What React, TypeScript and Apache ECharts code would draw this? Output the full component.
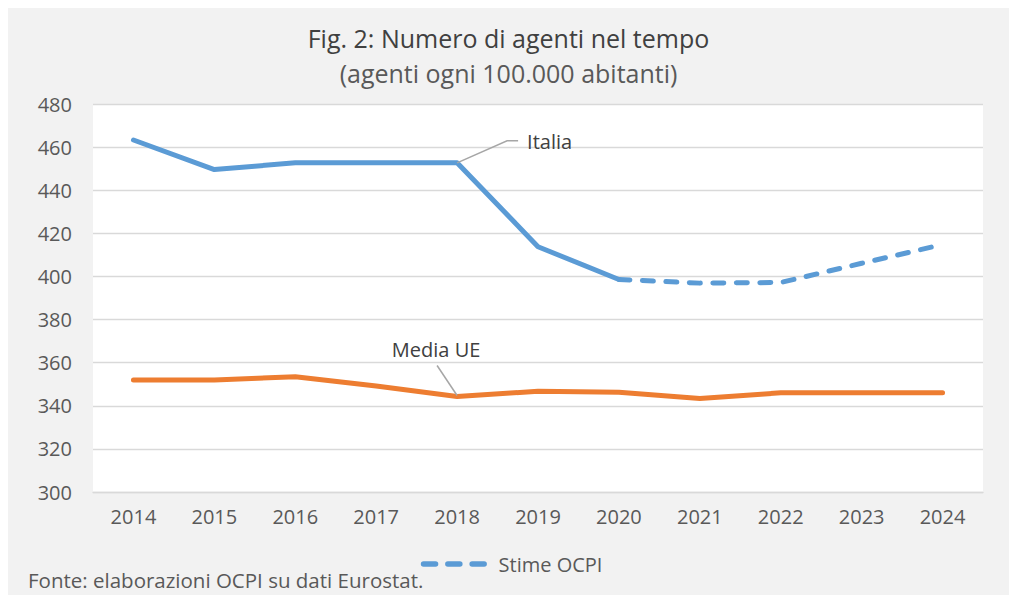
import React, { useEffect, useRef } from "react";
import * as echarts from "echarts";

const years = ["2014", "2015", "2016", "2017", "2018", "2019", "2020", "2021", "2022", "2023", "2024"];
const italia = [463.3, 449.6, 452.7, 452.7, 452.7, 413.8, 398.6, null, null, null, null];
const stimeOCPI = [null, null, null, null, null, null, 398.6, 396.9, 397.2, 406.1, 414.8];
const mediaUE = [352, 352, 353.5, 349.2, 344.3, 346.7, 346.3, 343.4, 346, 346, 346];

const FONT = "'Open Sans', sans-serif";
const BLUE = "#5b9bd5";
const ORANGE = "#ed7d31";

export default function App() {
  const ref = useRef<HTMLDivElement>(null);
  useEffect(() => {
    document.body.style.overflow = "hidden";
    const chart = echarts.init(ref.current!, null, { renderer: "svg" });
    chart.setOption({
      animation: false,
      backgroundColor: "#f2f2f2",
      textStyle: { fontFamily: FONT },
      title: [
        {
          text: "Fig. 2: Numero di agenti nel tempo",
          left: "center",
          top: 12,
          textStyle: { fontFamily: FONT, fontSize: 25, fontWeight: "normal", color: "#404040" },
        },
        {
          text: "(agenti ogni 100.000 abitanti)",
          left: "center",
          top: 47,
          textStyle: { fontFamily: FONT, fontSize: 25, fontWeight: "normal", color: "#595959" },
        },
      ],
      grid: {
        left: 85,
        top: 96,
        right: 26,
        bottom: 103,
        show: true,
        backgroundColor: "#ffffff",
        borderWidth: 0,
      },
      legend: {
        data: ["Stime OCPI"],
        left: 407.8,
        top: 541,
        itemWidth: 70,
        itemHeight: 20,
        itemStyle: { opacity: 0 },
        lineStyle: { type: [12, 12.3], cap: "round", width: 5.5, color: BLUE },
        textStyle: { fontFamily: FONT, fontSize: 20, color: "#595959" },
      },
      xAxis: {
        type: "category",
        data: years,
        boundaryGap: true,
        axisLine: { lineStyle: { color: "#d9d9d9", width: 1.3 } },
        axisTick: { inside: true, length: 6, lineStyle: { color: "#d9d9d9", width: 1.3 } },
        axisLabel: { fontFamily: FONT, fontSize: 20, color: "#595959", margin: 14 },
      },
      yAxis: {
        type: "value",
        min: 300,
        max: 480,
        interval: 20,
        axisLine: { show: false },
        axisTick: { show: false },
        splitLine: { lineStyle: { color: "#d9d9d9", width: 1.3 } },
        axisLabel: { fontFamily: FONT, fontSize: 20, color: "#595959", margin: 21 },
      },
      series: [
        {
          name: "Italia",
          type: "line",
          data: italia,
          symbol: "none",
          lineStyle: { color: BLUE, width: 5, join: "round", cap: "round" },
          itemStyle: { color: BLUE },
        },
        {
          name: "Stime OCPI",
          type: "line",
          data: stimeOCPI,
          symbol: "none",
          lineStyle: { color: BLUE, width: 5, type: [11, 12.5], cap: "round", join: "round" },
          itemStyle: { color: BLUE },
        },
        {
          name: "Media UE",
          type: "line",
          data: mediaUE,
          symbol: "none",
          lineStyle: { color: ORANGE, width: 5, join: "round", cap: "round" },
          itemStyle: { color: ORANGE },
        },
      ],
    });

    const pI = chart.convertToPixel({ seriesIndex: 0 }, [4, italia[4] as number]) as number[];
    const pM = chart.convertToPixel({ seriesIndex: 2 }, [4, mediaUE[4]]) as number[];
    const lineStyle = { stroke: "#a6a6a6", lineWidth: 1.5, fill: null };
    chart.setOption({
      graphic: [
        {
          type: "polyline",
          shape: { points: [[pI[0], pI[1]], [pI[0] + 50, pI[1] - 22], [pI[0] + 61, pI[1] - 22]] },
          style: lineStyle,
          z: 10,
        },
        {
          type: "text",
          x: pI[0] + 70,
          y: pI[1] - 21,
          style: { text: "Italia", font: `20px ${FONT}`, fill: "#404040", verticalAlign: "middle", align: "left" },
          z: 10,
        },
        {
          type: "line",
          shape: { x1: pM[0], y1: pM[1] - 1, x2: pM[0] - 20, y2: pM[1] - 31 },
          style: lineStyle,
          z: 10,
        },
        {
          type: "text",
          x: pM[0] - 21,
          y: pM[1] - 47,
          style: { text: "Media UE", font: `20px ${FONT}`, fill: "#404040", verticalAlign: "middle", align: "center" },
          z: 10,
        },
        {
          type: "text",
          left: 20,
          top: 561,
          style: { text: "Fonte: elaborazioni OCPI su dati Eurostat.", font: `20.5px ${FONT}`, fill: "#595959" },
        },
      ],
    });
    return () => chart.dispose();
  }, []);
  return (
    <div
      ref={ref}
      style={{ position: "fixed", left: 8, top: 8, width: 1001, height: 587, background: "#f2f2f2" }}
    />
  );
}
